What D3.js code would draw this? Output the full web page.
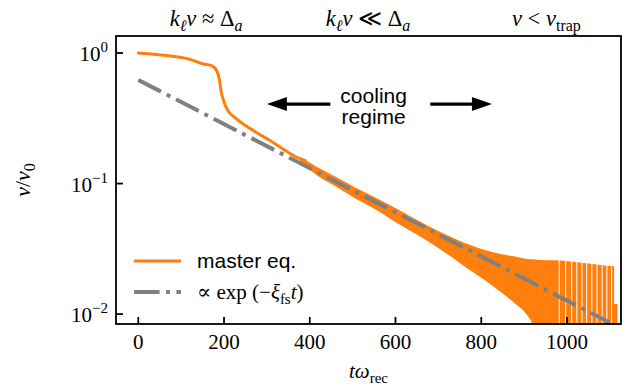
<!DOCTYPE html>
<html><head><meta charset="utf-8">
<script src="https://cdn.jsdelivr.net/npm/d3@7"></script>
<style>body{margin:0;background:#fff} svg{display:block}</style>
</head><body><svg id="c" width="628" height="386"></svg>
<script>
// ---- data ----
const mainT = [0, 36, 75, 114, 152, 172, 183, 189, 193, 199, 207, 230, 269, 308, 370, 390];
const mainV = [1.0, 0.977, 0.948, 0.906, 0.824, 0.796, 0.730, 0.631, 0.513, 0.431, 0.372, 0.312, 0.254, 0.213, 0.159, 0.150];
const bandT = [380, 420, 460, 500, 560, 611, 650, 689, 730, 767, 800, 844, 880, 907, 922, 940, 960, 984, 1020, 1060, 1100, 1107];
const bandUpper = [0.155, 0.129, 0.110, 0.0933, 0.0741, 0.0605, 0.0513, 0.0440, 0.0380, 0.0337, 0.0309, 0.0283, 0.0269, 0.0259, 0.0257, 0.0254, 0.0253, 0.0252, 0.0245, 0.0237, 0.0229, 0.0229];
const bandLower = [0.148, 0.117, 0.0977, 0.0813, 0.0631, 0.0494, 0.0417, 0.0348, 0.0282, 0.0231, 0.0195, 0.0153, 0.0123, 0.0102, 0.0085, 0.005, 0.005, 0.005, 0.005, 0.005, 0.005, 0.005];
const gapT = [982, 997, 1011, 1023, 1035, 1046, 1058, 1070, 1082, 1093, 1104];
const tailT = [1108, 1108, 1116, 1116];
const tailV = [0.005, 0.0118, 0.0118, 0.005];
const fitT = [0, 1100];
const fitV = [0.622, 0.0086];
const xTicks = [0, 200, 400, 600, 800, 1000];
const yTicks = [1, 0.1, 0.01];
const yTickExp = ["0", "−1", "−2"];

const svg = d3.select("#c");
const L = 116, R = 621, T = 36, B = 324;
const x = d3.scaleLinear().domain([-52, 1126]).range([L, R]);
const y = d3.scaleLog().domain([0.0084, 1.35]).range([B, T]);
const orange = "#ff7f0e", gray = "#808080";
const serif = "Liberation Serif, DejaVu Serif, serif";
const sans = "Liberation Sans, Arial, sans-serif";

svg.append("defs").append("clipPath").attr("id", "clip")
  .append("rect").attr("x", L).attr("y", T).attr("width", R - L).attr("height", B - T);
const plot = svg.append("g").attr("clip-path", "url(#clip)");

// band (dense oscillation region)
const band = bandT.map((t, i) => ({t, u: bandUpper[i], l: bandLower[i]}));
plot.append("path").datum(band)
  .attr("d", d3.area().x(d => x(d.t)).y0(d => y(d.l)).y1(d => y(d.u)).curve(d3.curveMonotoneX))
  .attr("fill", orange).attr("stroke", orange).attr("stroke-width", 2.5).attr("stroke-linejoin", "round");
// gaps between resolved oscillations
const bandUpperAt = t => { const i = d3.bisectLeft(bandT, t); const t0 = bandT[i-1], t1 = bandT[i]; const f = (t - t0)/(t1 - t0); return Math.exp(Math.log(bandUpper[i-1])*(1-f) + Math.log(bandUpper[i])*f); };
plot.selectAll(".gap").data(gapT).join("line")
  .attr("x1", d => x(d)).attr("x2", d => x(d))
  .attr("y1", d => y(bandUpperAt(d)) - 3).attr("y2", B)
  .attr("stroke", "#fff").attr("stroke-width", 1);
// last small oscillation
plot.append("path").datum(tailT.map((t, i) => [t, tailV[i]]))
  .attr("d", d3.line().x(d => x(d[0])).y(d => y(d[1])))
  .attr("fill", orange).attr("stroke", orange).attr("stroke-width", 1.5);

// main orange line
plot.append("path").datum(mainT.map((t, i) => [t, mainV[i]]))
  .attr("d", d3.line().x(d => x(d[0])).y(d => y(d[1])).curve(d3.curveMonotoneX))
  .attr("fill", "none").attr("stroke", orange).attr("stroke-width", 3).attr("stroke-linecap", "round");

// fit line
plot.append("path").datum(fitT.map((t, i) => [t, fitV[i]]))
  .attr("d", d3.line().x(d => x(d[0])).y(d => y(d[1])))
  .attr("fill", "none").attr("stroke", gray).attr("stroke-width", 4)
  .attr("stroke-dasharray", "25.6,6.4,4,6.4");

// frame
svg.append("rect").attr("x", L).attr("y", T).attr("width", R - L).attr("height", B - T)
  .attr("fill", "none").attr("stroke", "#000").attr("stroke-width", 1.8);

// ticks
svg.selectAll(".xt").data(xTicks).join("line")
  .attr("x1", d => x(d)).attr("x2", d => x(d)).attr("y1", B).attr("y2", B - 7)
  .attr("stroke", "#000").attr("stroke-width", 1.8);
svg.selectAll(".xl").data(xTicks).join("text")
  .attr("x", d => x(d)).attr("y", 349).attr("text-anchor", "middle")
  .attr("font-family", serif).attr("font-size", 21).text(d => d);
svg.selectAll(".yt").data(yTicks).join("line")
  .attr("x1", L).attr("x2", L + 7).attr("y1", d => y(d)).attr("y2", d => y(d))
  .attr("stroke", "#000").attr("stroke-width", 1.8);
yTicks.forEach((v, i) => {
  const t = svg.append("text").attr("x", 108).attr("y", y(v) + 8).attr("text-anchor", "end")
    .attr("font-family", serif).attr("font-size", 21);
  t.append("tspan").text("10");
  t.append("tspan").attr("dy", -9).attr("font-size", 15).text(yTickExp[i]);
});

// rich text helper
function rich(sel, parts, subSize) {
  let cur = 0;
  parts.forEach(p => {
    const target = p.sub ? 5 : (p.sup ? -9 : 0);
    const ts = sel.append("tspan").text(p.t);
    if (target !== cur) { ts.attr("dy", target - cur); cur = target; }
    if (p.i) ts.attr("font-style", "italic");
    if (p.sub || p.sup) ts.attr("font-size", subSize || 15);
    if (p.dx) ts.attr("dx", p.dx);
  });
}
function mtext(px, py, parts, anchor, size, rot) {
  const t = svg.append("text").attr("x", px).attr("y", py).attr("text-anchor", anchor || "middle")
    .attr("font-family", serif).attr("font-size", size || 21);
  if (rot) t.attr("transform", `rotate(${rot},${px},${py})`);
  rich(t, parts, Math.round((size || 21) * 0.72));
  return t;
}

// axis labels
mtext((L + R) / 2, 378, [{t: "t", i: true}, {t: "ω", i: true}, {t: "rec", sub: true}]);
mtext(30, (T + B) / 2, [{t: "v", i: true}, {t: "/"}, {t: "v", i: true}, {t: "0", sub: true}], "middle", 22, -90);

// top annotations
mtext(x(158), 26, [{t: "k", i: true}, {t: "ℓ", i: true, sub: true}, {t: "v", i: true}, {t: " ≈ Δ"}, {t: "a", i: true, sub: true}], "middle", 22.5);
mtext(x(536), 26, [{t: "k", i: true}, {t: "ℓ", i: true, sub: true}, {t: "v", i: true}, {t: " ≪ Δ"}, {t: "a", i: true, sub: true}], "middle", 22.5);
mtext(x(952), 26, [{t: "v", i: true}, {t: " < "}, {t: "v", i: true}, {t: "trap", sub: true}], "middle", 22.5);

// cooling regime
svg.append("text").attr("x", x(549)).attr("y", 103).attr("text-anchor", "middle")
  .attr("font-family", sans).attr("font-size", 21).text("cooling");
svg.append("text").attr("x", x(549)).attr("y", 124).attr("text-anchor", "middle")
  .attr("font-family", sans).attr("font-size", 21).text("regime");
function arrow(t0, t1, v) {
  const x0 = x(t0), x1 = x(t1), yy = y(v), dir = Math.sign(x1 - x0);
  svg.append("line").attr("x1", x0).attr("x2", x1 - dir * 18).attr("y1", yy).attr("y2", yy)
    .attr("stroke", "#000").attr("stroke-width", 3.3);
  svg.append("path").attr("d", `M${x1},${yy} L${x1 - dir * 20},${yy - 7} L${x1 - dir * 20},${yy + 7} Z`).attr("fill", "#000");
}
arrow(448, 300, 0.406);
arrow(681, 825, 0.406);

// legend
svg.append("line").attr("x1", 134).attr("x2", 181).attr("y1", 261).attr("y2", 261)
  .attr("stroke", orange).attr("stroke-width", 3);
svg.append("text").attr("x", 197).attr("y", 268).attr("font-family", sans).attr("font-size", 21).text("master eq.");
svg.append("line").attr("x1", 134).attr("x2", 181).attr("y1", 292).attr("y2", 292)
  .attr("stroke", gray).attr("stroke-width", 4).attr("stroke-dasharray", "25.6,6.4,4,6.4");
mtext(197, 299, [{t: "∝ exp ("}, {t: "−"}, {t: "ξ", i: true}, {t: "fs", sub: true}, {t: "t", i: true}, {t: ")"}], "start");
</script></body></html>
